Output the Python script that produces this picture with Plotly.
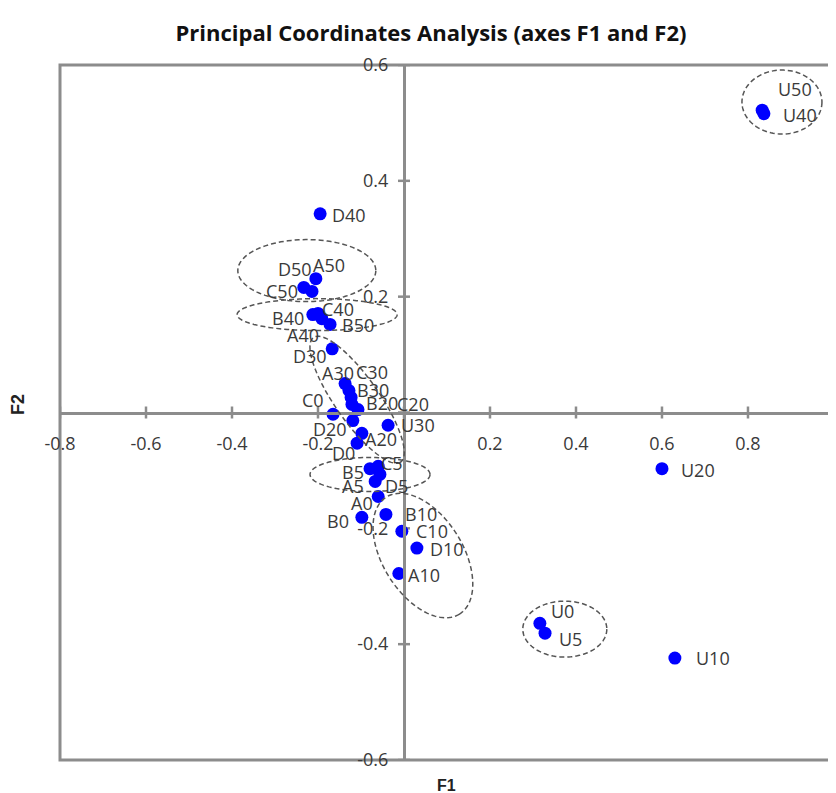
import numpy as np
import plotly.graph_objects as go

# ---------------- data ----------------
labels = ["U50", "U40", "D40", "A50", "D50", "C50", "B40", "C40", "A40", "B50",
          "D30", "A30", "C30", "B30", "B20", "C20", "C0", "D20", "A20", "D0",
          "U30", "B5", "C5", "D5", "A5", "A0", "B0", "B10", "C10", "D10",
          "A10", "U20", "U0", "U5", "U10"]
f1 = [0.833, 0.837, -0.195, -0.205, -0.214, -0.233, -0.212, -0.200, -0.191, -0.172,
      -0.167, -0.137, -0.128, -0.123, -0.121, -0.107, -0.165, -0.119, -0.098, -0.109,
      -0.037, -0.079, -0.060, -0.056, -0.067, -0.060, -0.098, -0.042, -0.005, 0.030,
      -0.012, 0.600, 0.316, 0.328, 0.630]
f2 = [0.522, 0.516, 0.343, 0.231, 0.209, 0.216, 0.169, 0.171, 0.162, 0.152,
      0.110, 0.050, 0.038, 0.026, 0.014, 0.005, -0.003, -0.014, -0.036, -0.053,
      -0.022, -0.097, -0.093, -0.107, -0.119, -0.145, -0.181, -0.176, -0.205, -0.234,
      -0.278, -0.097, -0.364, -0.381, -0.424]

x_ticks = [-0.8, -0.6, -0.4, -0.2, 0.0, 0.2, 0.4, 0.6, 0.8, 1.0]
x_tick_text = ["-0.8", "-0.6", "-0.4", "-0.2", "", "0.2", "0.4", "0.6", "0.8", "1"]
y_ticks = [-0.6, -0.4, -0.2, 0.0, 0.2, 0.4, 0.6]
y_tick_text = ["-0.6", "-0.4", "-0.2", "", "0.2", "0.4", "0.6"]

# ---------------- layout / style ----------------
OFF = 8                      # page body margin of the browser
W, H = 836 - OFF, 793 - OFF
M_L, M_R, M_T = 60 - OFF, 0, 65 - OFF
M_B = H - (760 - OFF)
X_RANGE = [-0.8, 1.0047]
Y_RANGE = [-0.6, 0.6]
PW, PH = W - M_L - M_R, H - M_T - M_B
SX = PW / (X_RANGE[1] - X_RANGE[0])   # px per unit
SY = PH / (Y_RANGE[1] - Y_RANGE[0])

AXIS_COL = "#8c8c8c"
TEXT_COL = "#3a3a3a"
FONT = "Open Sans"

# label offsets (pixels: dx right, dy down) relative to points
label_offsets = {
    "U50": (33, -21), "U40": (36, 1), "D40": (29, 1), "A50": (13, -14),
    "D50": (-17, -22), "C50": (-22, 4), "B40": (-25, 3), "C40": (20, -4),
    "A40": (-19, 16), "B50": (28, 1), "D30": (-22, 7), "A30": (-7, -11),
    "C30": (23, -18), "B30": (22, -7), "B20": (30, -1), "C20": (55, -6),
    "C0": (-20, -14), "D20": (-23, 8), "A20": (19, 6), "D0": (-14, 10),
    "U30": (30, 0), "B5": (-17, 3), "C5": (14, -3), "D5": (17, 12),
    "A5": (-22, 5), "A0": (-16, 7), "B0": (-24, 4), "B10": (35, 0),
    "C10": (30, 0), "D10": (30, 1), "A10": (25, 1), "U20": (36, 1),
    "U0": (23, -12), "U5": (25, 6), "U10": (38, 0),
}

# group ellipses: centre (data units), semi-axes (px), screen rotation (deg)
ellipses = [
    (0.879, 0.536, 40, 32, 0),
    (-0.226, 0.245, 69, 31, 0),
    (-0.202, 0.169, 80, 16, 0),
    (-0.109, 0.022, 76, 22, 55),
    (-0.079, -0.107, 60, 17, 0),
    (0.044, -0.247, 69, 40, 58),
    (0.374, -0.374, 42, 28, 0),
]

fig = go.Figure()
fig.add_trace(go.Scatter(
    x=f1, y=f2, mode="markers",
    marker=dict(color="#0000ff", size=13, line=dict(width=0)),
    hoverinfo="text", text=labels, showlegend=False, cliponaxis=False,
))

annotations = []
for lab, x, y in zip(labels, f1, f2):
    dx, dy = label_offsets[lab]
    annotations.append(dict(
        x=x, y=y, xref="x", yref="y", text=lab, showarrow=False,
        xanchor="center", yanchor="middle",
        xshift=dx, yshift=-dy, font=dict(family=FONT, size=18, color=TEXT_COL),
    ))

# axis titles (positions given in screen pixels)
annotations.append(dict(
    x=(446 - 60) / PW, y=-(785 - 760) / PH, xref="paper", yref="paper",
    xanchor="center", yanchor="middle",
    text="<b>F1</b>", showarrow=False,
    font=dict(family="Liberation Sans", size=16, color="#222222"),
))
annotations.append(dict(
    x=(18 - 60) / PW, y=(760 - 405) / PH, xref="paper", yref="paper",
    xanchor="center", yanchor="middle",
    text="<b>F2</b>", showarrow=False, textangle=-90,
    font=dict(family="Liberation Sans", size=18, color="#222222"),
))

shapes = []
# plot border (left, top, bottom)
shapes.append(dict(type="rect", xref="paper", yref="paper", x0=0, x1=1.02,
                   y0=0, y1=1, line=dict(color=AXIS_COL, width=3), layer="below"))
# crossing tick marks
for v in x_ticks:
    shapes.append(dict(type="line", xref="x", yref="y", ysizemode="pixel",
                       yanchor=0, x0=v, x1=v, y0=-6, y1=6,
                       line=dict(color=AXIS_COL, width=2.5), layer="below"))
for v in y_ticks:
    shapes.append(dict(type="line", xref="x", yref="y", xsizemode="pixel",
                       xanchor=0, y0=v, y1=v, x0=-6, x1=6,
                       line=dict(color=AXIS_COL, width=2.5), layer="below"))
# ellipses
t = np.linspace(0, 2 * np.pi, 120)
for cx, cy, a, b, ang in ellipses:
    th = np.deg2rad(ang)
    px = a * np.cos(t) * np.cos(th) - b * np.sin(t) * np.sin(th)
    py = a * np.cos(t) * np.sin(th) + b * np.sin(t) * np.cos(th)
    ex = cx + px / SX
    ey = cy - py / SY
    path = "M " + " L ".join(f"{u:.5f},{w:.5f}" for u, w in zip(ex, ey)) + " Z"
    shapes.append(dict(type="path", xref="x", yref="y", path=path,
                       line=dict(color="#555555", width=1.5, dash="5px,3px")))

x_pos = (0 - Y_RANGE[0]) / (Y_RANGE[1] - Y_RANGE[0])
y_pos = (0 - X_RANGE[0]) / (X_RANGE[1] - X_RANGE[0])

fig.update_layout(
    width=W, height=H,
    margin=dict(l=M_L, r=M_R, t=M_T, b=M_B),
    paper_bgcolor="white", plot_bgcolor="white",
    title=dict(text="<b>Principal Coordinates Analysis (axes F1 and F2)</b>",
               x=(431 - OFF) / W, xref="container", xanchor="center",
               y=1 - (33 - OFF) / H, yref="container", yanchor="middle",
               font=dict(family="Open Sans", size=22, color="#111111")),
    xaxis=dict(range=X_RANGE, anchor="free", position=x_pos,
               showline=True, linecolor=AXIS_COL, linewidth=3,
               showgrid=False, zeroline=False, ticks="",
               tickvals=x_ticks, ticktext=x_tick_text, ticklabelstandoff=14,
               tickfont=dict(family=FONT, size=18, color=TEXT_COL)),
    yaxis=dict(range=Y_RANGE, anchor="free", position=y_pos,
               showline=True, linecolor=AXIS_COL, linewidth=3,
               showgrid=False, zeroline=False, ticks="",
               tickvals=y_ticks, ticktext=y_tick_text, ticklabelstandoff=11,
               tickfont=dict(family=FONT, size=18, color=TEXT_COL)),
    annotations=annotations,
    shapes=shapes,
)

fig.write_html("out.html")
